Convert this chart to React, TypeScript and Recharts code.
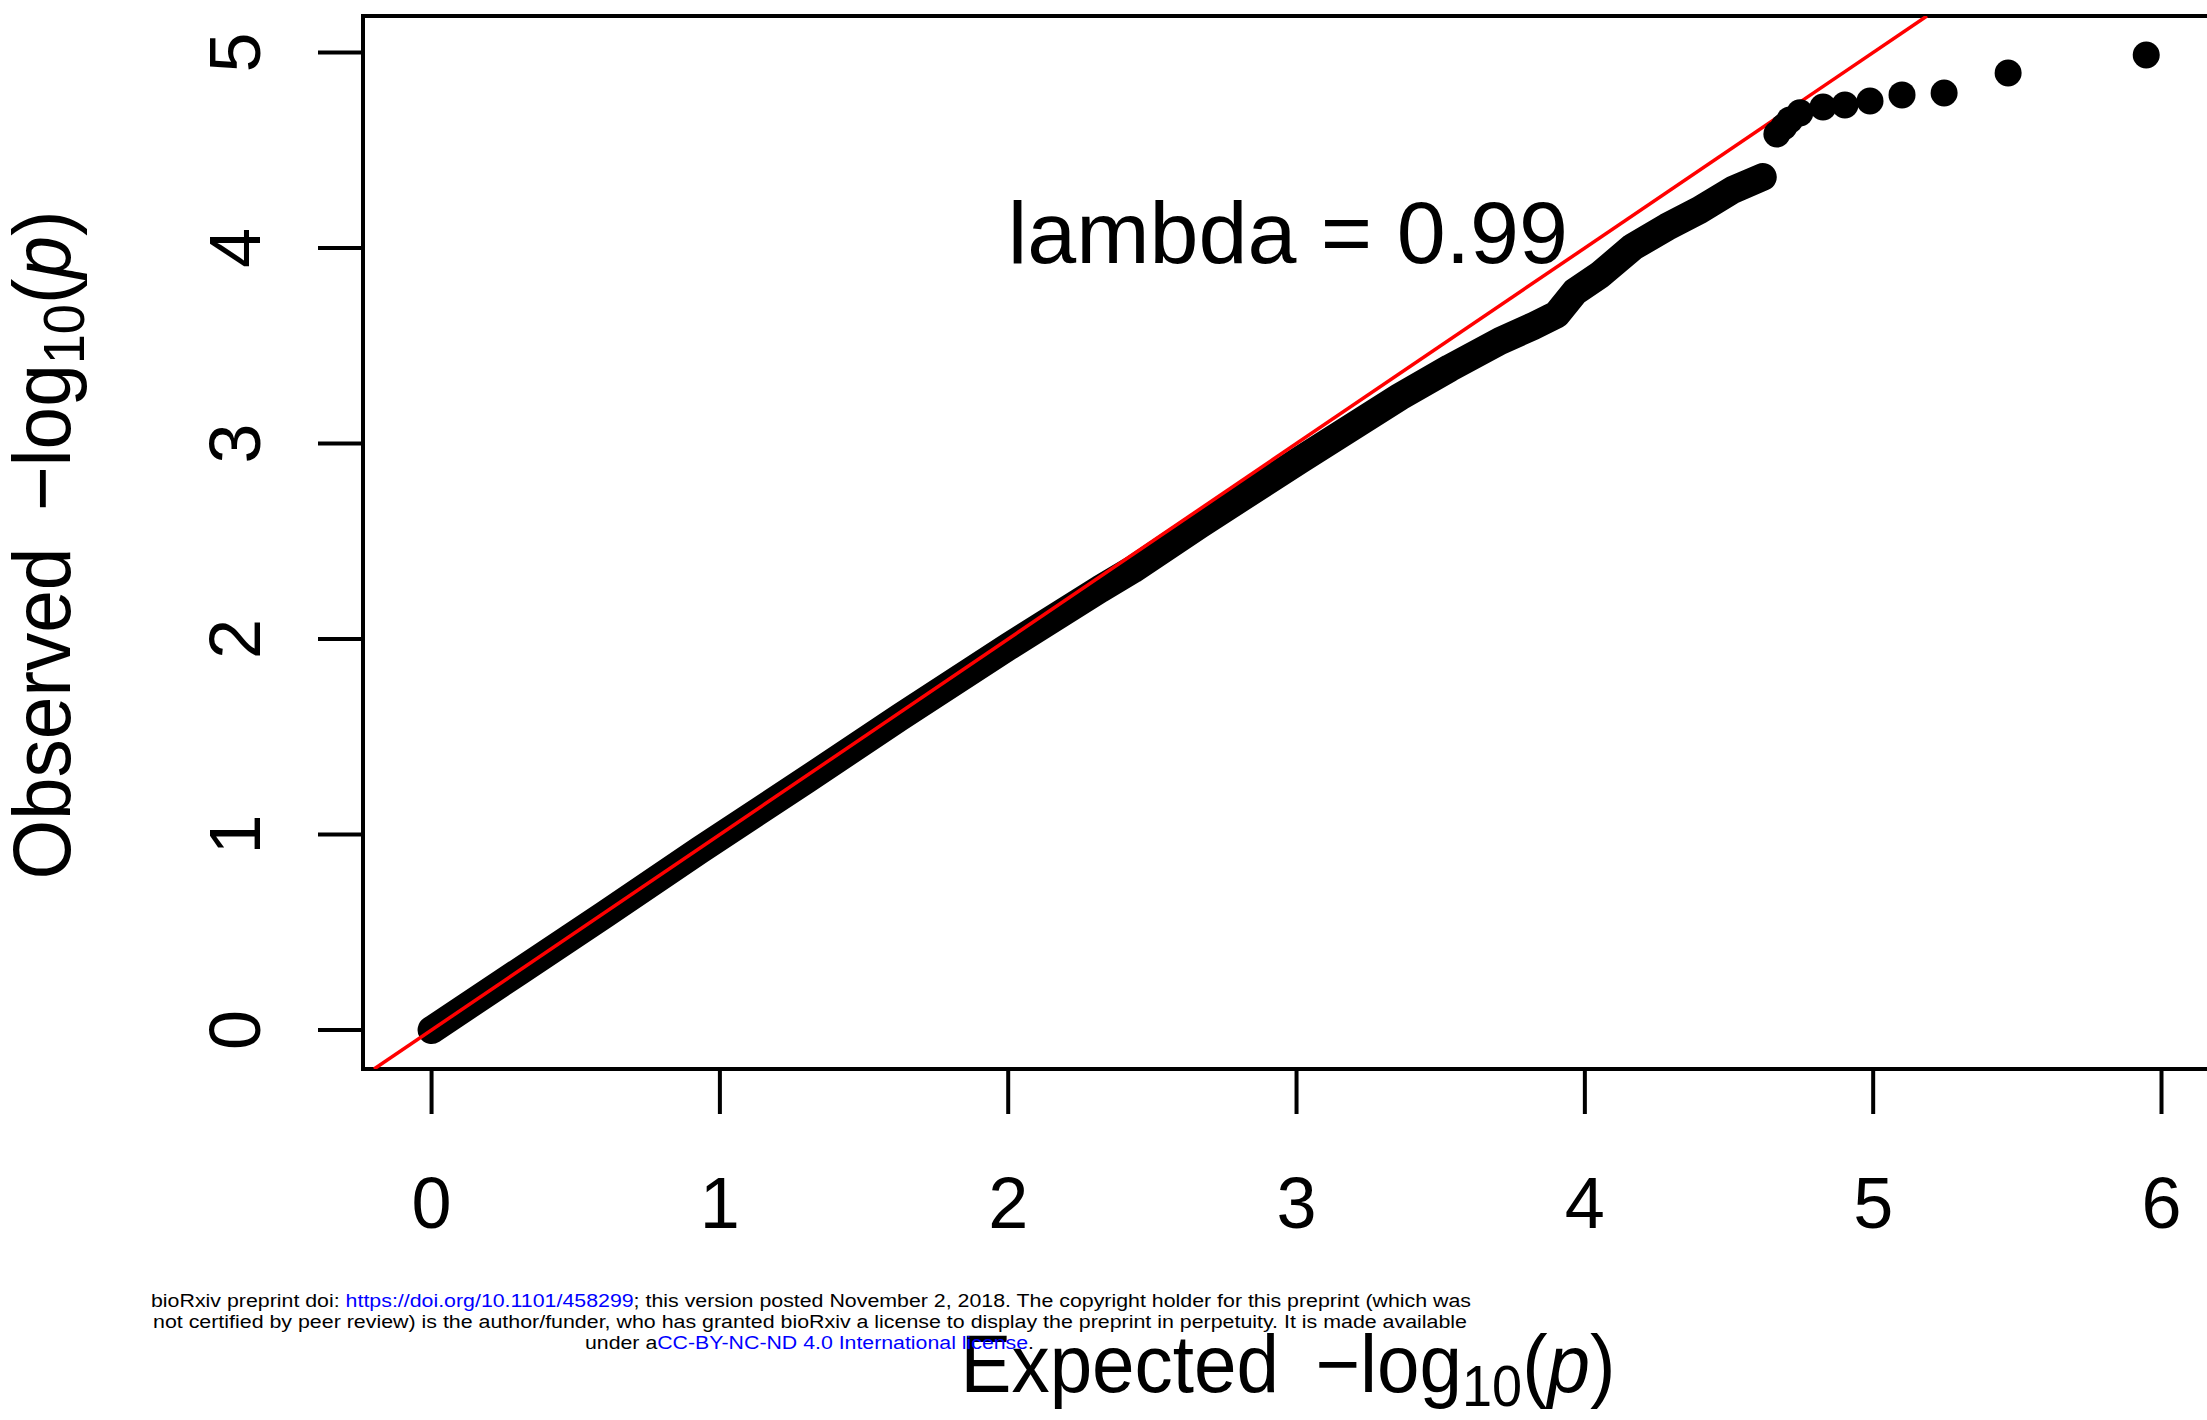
import React from 'react';
import { ComposedChart, Line, Scatter, XAxis, YAxis, ReferenceArea, ReferenceDot } from 'recharts';

const bandExpected = [0, 0.3, 0.6, 0.93, 1.3, 1.625, 2.0, 2.318, 2.432, 2.665, 3.012, 3.359, 3.532, 3.706, 3.82, 3.902, 3.965, 4.052, 4.166, 4.284, 4.398, 4.513, 4.617];
const bandObserved = [0, 0.295, 0.59, 0.92, 1.28, 1.6, 1.96, 2.255, 2.355, 2.585, 2.916, 3.24, 3.386, 3.524, 3.6, 3.66, 3.775, 3.862, 4.005, 4.107, 4.194, 4.297, 4.363];
const tailExpected = [4.666, 4.69, 4.711, 4.746, 4.826, 4.902, 4.989, 5.1, 5.246, 5.468, 5.947];
const tailObserved = [4.583, 4.62, 4.655, 4.691, 4.721, 4.731, 4.752, 4.783, 4.793, 4.895, 4.987];
// y = x reference, ends on the plot frame
const identityLine = [-0.1995, 5.1865];

const xTicks = [0, 1, 2, 3, 4, 5, 6];
const yTicks = [0, 1, 2, 3, 4, 5];
const xDomain = [-0.2378, 6.1838];
const yDomain = [-0.1995, 5.1865];

const lambdaLabel = 'lambda = 0.99';
const lambdaX = 2.97;
const lambdaY = 4.08;

const FONT = '"Liberation Sans", Arial, Helvetica, sans-serif';

const bandData = bandExpected.map((x, i) => ({ x, y: bandObserved[i] }));
const tailData = tailExpected.map((x, i) => ({ x, y: tailObserved[i] }));
const lineData = identityLine.map((v) => ({ x: v, y: v }));

const XTick = (props: any) => {
  const { x, y, payload } = props;
  return (
    <text x={x} y={y + 114} textAnchor="middle" fontSize={72} fontFamily={FONT} fill="#000">
      {payload.value}
    </text>
  );
};

const YTick = (props: any) => {
  const { x, y, payload } = props;
  const tx = x - 58;
  return (
    <text x={tx} y={y} transform={`rotate(-90, ${tx}, ${y})`} textAnchor="middle" fontSize={72} fontFamily={FONT} fill="#000">
      {payload.value}
    </text>
  );
};

const Dot = (props: any) => <circle cx={props.cx} cy={props.cy} r={13.5} fill="#000" />;

const LambdaText = (props: any) => (
  <text x={props.cx} y={props.cy} dy={31} textAnchor="middle" fontSize={88} fontFamily={FONT} fill="#000">
    {lambdaLabel}
  </text>
);

export default function App() {
  return (
    <div style={{ position: 'absolute', left: 0, top: 0, width: 2207, height: 1420, overflow: 'hidden', background: '#fff' }}>
      <ComposedChart width={2230} height={1420} margin={{ top: 16, right: 15.5, bottom: 51, left: 63 }}>
        <XAxis
          type="number"
          dataKey="x"
          domain={xDomain}
          ticks={xTicks}
          interval={0}
          allowDataOverflow
          height={300}
          axisLine={false}
          tickSize={45}
          tickMargin={0}
          tickLine={{ stroke: '#000', strokeWidth: 4 }}
          tick={<XTick />}
        />
        <YAxis
          type="number"
          dataKey="y"
          domain={yDomain}
          ticks={yTicks}
          interval={0}
          allowDataOverflow
          width={300}
          axisLine={false}
          tickSize={45}
          tickMargin={0}
          tickLine={{ stroke: '#000', strokeWidth: 4 }}
          tick={<YTick />}
        />
        <ReferenceArea
          x1={xDomain[0]}
          x2={xDomain[1]}
          y1={yDomain[0]}
          y2={yDomain[1]}
          fill="none"
          fillOpacity={0}
          stroke="#000"
          strokeWidth={4}
          ifOverflow="visible"
        />
        <Line
          data={bandData}
          dataKey="y"
          type="linear"
          stroke="#000"
          strokeWidth={28}
          strokeLinecap="round"
          strokeLinejoin="round"
          dot={false}
          activeDot={false}
          isAnimationActive={false}
        />
        <Scatter data={tailData} dataKey="y" shape={<Dot />} isAnimationActive={false} />
        <Line
          data={lineData}
          dataKey="y"
          type="linear"
          stroke="#f00"
          strokeWidth={3.5}
          dot={false}
          activeDot={false}
          isAnimationActive={false}
        />
        <ReferenceDot x={lambdaX} y={lambdaY} r={0} ifOverflow="visible" shape={<LambdaText />} />
      </ComposedChart>
      <svg width={2207} height={1420} style={{ position: 'absolute', left: 0, top: 0, pointerEvents: 'none' }}>
        <text x={1288} y={1392} textAnchor="middle" fontSize={82} fontFamily={FONT} fill="#000" textLength={655} lengthAdjust="spacingAndGlyphs">
          Expected{'\u00a0\u2009'}−log<tspan dy={14} fontSize={58}>10</tspan>
          <tspan dy={-14}>(</tspan>
          <tspan fontStyle="italic">p</tspan>)
        </text>
        <text
          x={70}
          y={545}
          transform="rotate(-90, 70, 545)"
          textAnchor="middle"
          fontSize={82}
          fontFamily={FONT}
          fill="#000"
          textLength={669}
          lengthAdjust="spacingAndGlyphs"
        >
          Observed{'\u00a0\u2009'}−log<tspan dy={14} fontSize={58}>10</tspan>
          <tspan dy={-14}>(</tspan>
          <tspan fontStyle="italic">p</tspan>)
        </text>
        <g fontFamily={FONT} fontSize={18} fill="#000">
          <text x={151} y={1307} textLength={1320} lengthAdjust="spacingAndGlyphs">
            bioRxiv preprint doi: <tspan fill="#00f">https://doi.org/10.1101/458299</tspan>; this version posted November 2, 2018. The copyright holder for this preprint (which was
          </text>
          <text x={153} y={1328} textLength={1314} lengthAdjust="spacingAndGlyphs">
            not certified by peer review) is the author/funder, who has granted bioRxiv a license to display the preprint in perpetuity. It is made available
          </text>
          <text x={585} y={1349} textLength={449} lengthAdjust="spacingAndGlyphs">
            under a<tspan fill="#00f">CC-BY-NC-ND 4.0 International license</tspan>.
          </text>
        </g>
      </svg>
    </div>
  );
}
